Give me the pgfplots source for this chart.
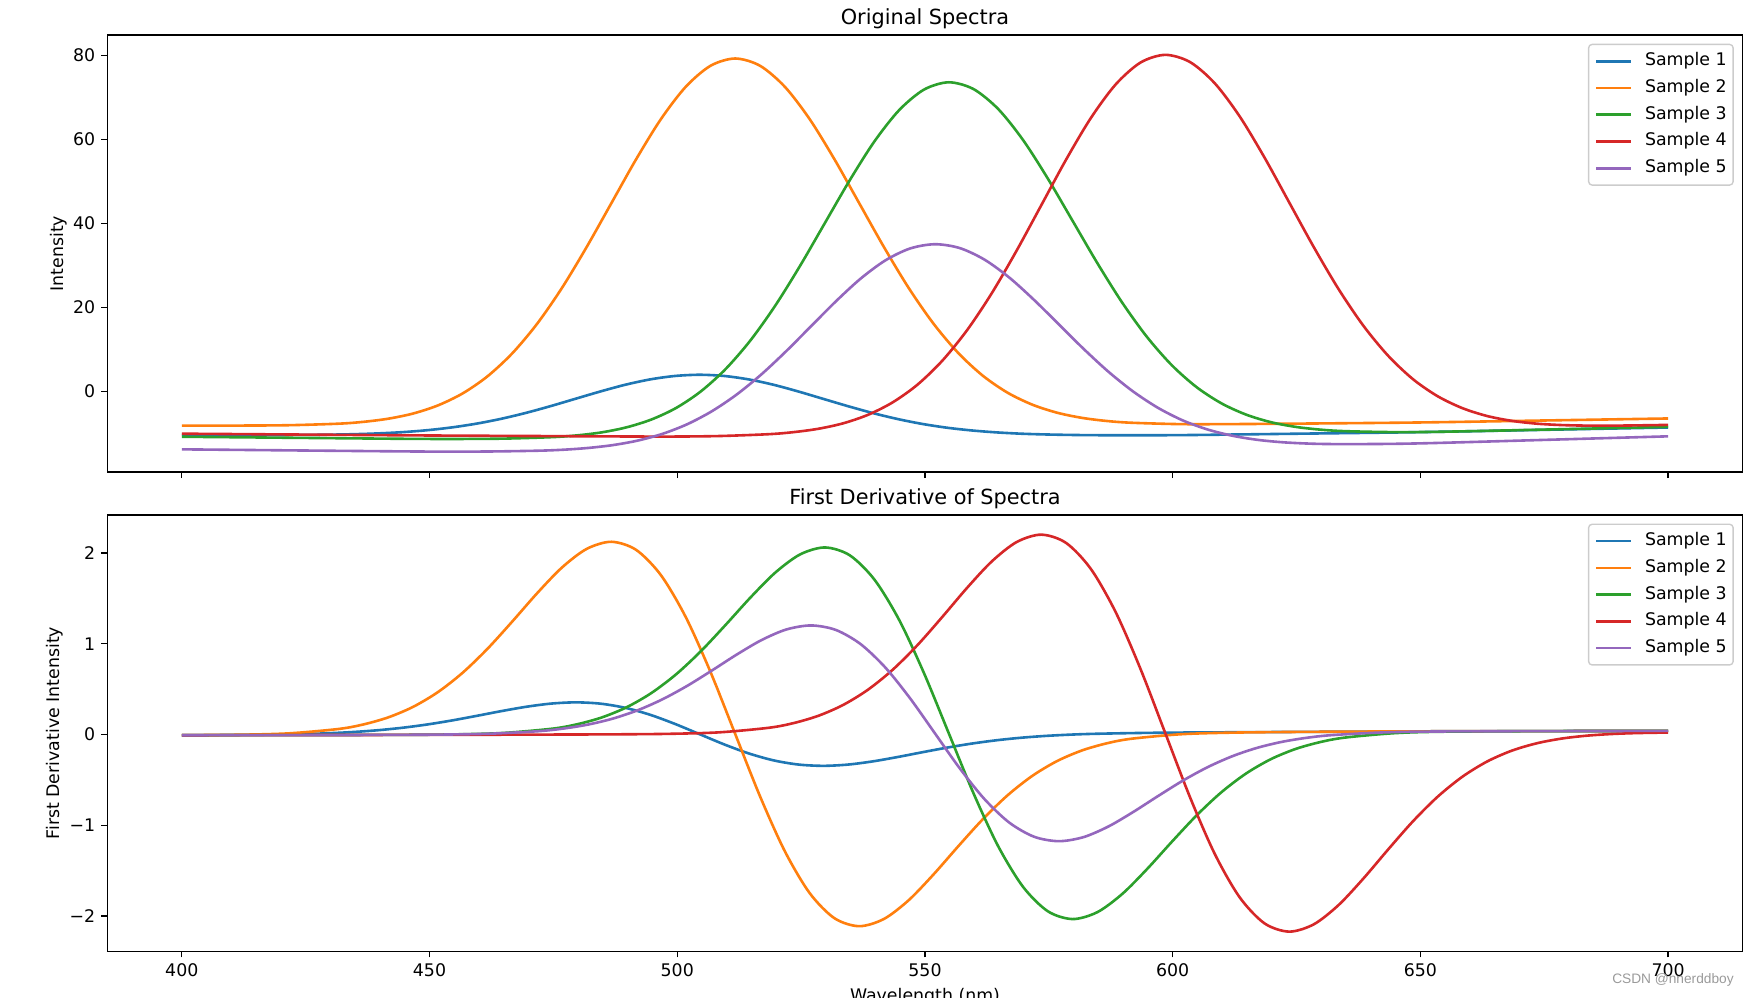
\documentclass[border=0pt]{standalone}
\usepackage{fontspec}
\setmainfont{DejaVu Sans}
\newfontfamily\wmfont{Liberation Sans}
\usepackage{pgfplots}
\pgfplotsset{compat=1.18}
\definecolor{c0}{HTML}{1F77B4}
\definecolor{c1}{HTML}{FF7F0E}
\definecolor{c2}{HTML}{2CA02C}
\definecolor{c3}{HTML}{D62728}
\definecolor{c4}{HTML}{9467BD}
\definecolor{legframe}{HTML}{CCCCCC}
\definecolor{wm}{HTML}{9A9A9A}
\pgfplotsset{
  spec/.style={
    scale only axis, width=941.8pt, xmin=385, xmax=715,
    xtick={400,450,...,700}, tick align=outside, xtick pos=bottom, ytick pos=left,
    major tick length=3.5pt, tick style={black, line width=0.8pt},
    axis line style={line width=0.8pt},
    tick label style={font=\fontsize{10}{12}\selectfont},
    label style={font=\fontsize{10}{12}\selectfont},
    ylabel style={inner sep=0pt},
    title style={font=\fontsize{12}{14.4}\selectfont, inner sep=0pt, anchor=base},
    /pgf/number format/assume math mode=true,
    legend cell align=left,
    legend image code/.code={\draw[##1] (0pt,0pt) -- (20pt,0pt);},
    legend style={at={(1,1)}, anchor=north east, xshift=-5pt, yshift=-5pt,
      draw=legframe, line width=0.8pt, rounded corners=2pt, fill=white, fill opacity=0.8, draw opacity=1, text opacity=1,
      inner xsep=3.7pt, inner ysep=2pt,
      font=\fontsize{10}{12}\selectfont,
      nodes={inner xsep=0pt, inner ysep=2.7pt, text height=7.6pt, text depth=2.4pt},
      /tikz/every odd column/.append style={column sep=7.3pt}},
    every axis plot/.append style={line width=1.5pt, smooth, no markers},
    cycle list={{c0},{c1},{c2},{c3},{c4}},
  }
}
\begin{document}
\begin{tikzpicture}
\useasboundingbox (0pt,0pt) rectangle (1008.6pt,-574.3pt);
\begin{axis}[spec, at={(61.9pt,-20.2pt)}, anchor=north west, height=251.7pt,
  ymin=-19.2, ymax=84.8, ytick={0,20,40,60,80}, yticklabels={0,20,40,60,80},
  xticklabels={}, title={Original Spectra}, ylabel={Intensity}]
\addplot coordinates {(400,-10.35) (404.5,-10.36) (414.5,-10.39) (424.5,-10.36) (429.5,-10.31) (434.5,-10.20) (439.5,-10.01) (444.5,-9.71) (449.5,-9.25) (454.5,-8.58) (459.5,-7.68) (464.5,-6.52) (469.5,-5.11) (474.5,-3.49) (479.5,-1.75) (484.5,-0.02) (489.5,1.57) (494.5,2.84) (499.5,3.66) (504.5,3.95) (509.5,3.66) (514.5,2.83) (519.5,1.55) (524.5,-0.05) (529.5,-1.80) (534.5,-3.54) (539.5,-5.17) (544.5,-6.59) (549.5,-7.76) (554.5,-8.66) (559.5,-9.31) (564.5,-9.77) (569.5,-10.08) (574.5,-10.26) (579.5,-10.37) (584.5,-10.43) (594.5,-10.45) (604.5,-10.38) (625,-10.08) (650,-9.70) (675,-9.15) (700,-8.60)};
\addlegendentry{Sample 1}
\addplot coordinates {(400,-8.14) (411.7,-8.14) (421.7,-8.05) (431.7,-7.69) (436.7,-7.25) (441.7,-6.50) (446.7,-5.27) (451.7,-3.34) (456.7,-0.48) (461.7,3.58) (466.7,9.05) (471.7,16.06) (476.7,24.56) (481.7,34.32) (486.7,44.78) (491.7,55.24) (496.7,64.79) (501.7,72.47) (506.7,77.48) (511.7,79.22) (516.7,77.50) (521.7,72.51) (526.7,64.84) (531.7,55.29) (536.7,44.84) (541.7,34.38) (546.7,24.63) (551.7,16.14) (556.7,9.15) (561.7,3.70) (566.7,-0.34) (571.7,-3.18) (576.7,-5.09) (581.7,-6.31) (586.7,-7.05) (591.7,-7.47) (601.7,-7.80) (611.7,-7.79) (625,-7.68) (650,-7.40) (675,-6.93) (700,-6.45)};
\addlegendentry{Sample 2}
\addplot coordinates {(400,-10.80) (425,-11.08) (444.8,-11.29) (454.8,-11.33) (464.8,-11.25) (474.8,-10.89) (479.8,-10.47) (484.8,-9.75) (489.8,-8.55) (494.8,-6.69) (499.8,-3.93) (504.8,0.03) (509.8,5.36) (514.8,12.17) (519.8,20.44) (524.8,29.90) (529.8,40.07) (534.8,50.22) (539.8,59.50) (544.8,66.95) (549.8,71.82) (554.8,73.56) (559.8,71.94) (564.8,67.17) (569.8,59.81) (574.8,50.63) (579.8,40.57) (584.8,30.50) (589.8,21.13) (594.8,12.96) (599.8,6.24) (604.8,1.02) (609.8,-2.83) (614.8,-5.53) (619.8,-7.33) (624.8,-8.45) (629.8,-9.11) (634.8,-9.47) (644.8,-9.70) (654.8,-9.60) (675,-9.10) (700,-8.45)};
\addlegendentry{Sample 3}
\addplot coordinates {(400,-10.07) (425,-10.29) (450,-10.50) (475,-10.65) (488.5,-10.73) (498.5,-10.76) (508.5,-10.63) (518.5,-10.19) (523.5,-9.70) (528.5,-8.90) (533.5,-7.60) (538.5,-5.58) (543.5,-2.60) (548.5,1.61) (553.5,7.30) (558.5,14.57) (563.5,23.40) (568.5,33.51) (573.5,44.36) (578.5,55.20) (583.5,65.10) (588.5,73.07) (593.5,78.26) (598.5,80.09) (603.5,78.37) (608.5,73.31) (613.5,65.47) (618.5,55.70) (623.5,44.99) (628.5,34.27) (633.5,24.29) (638.5,15.59) (643.5,8.45) (648.5,2.89) (653.5,-1.18) (658.5,-4.01) (663.5,-5.88) (668.5,-7.03) (673.5,-7.69) (678.5,-8.02) (683.5,-8.15) (688.5,-8.16) (693.5,-8.10) (700,-7.98)};
\addlegendentry{Sample 4}
\addplot coordinates {(400,-13.80) (425,-14.08) (442,-14.26) (452,-14.34) (462,-14.31) (472,-14.12) (477,-13.89) (482,-13.47) (487,-12.79) (492,-11.72) (497,-10.12) (502,-7.83) (507,-4.72) (512,-0.75) (517,4.06) (522,9.58) (527,15.50) (532,21.41) (537,26.82) (542,31.17) (547,34.01) (552,35.02) (557,34.11) (562,31.36) (567,27.10) (572,21.78) (577,15.96) (582,10.13) (587,4.70) (592,-0.02) (597,-3.90) (602,-6.90) (607,-9.06) (612,-10.55) (617,-11.52) (622,-12.10) (627,-12.41) (632,-12.54) (642,-12.52) (652,-12.32) (675,-11.55) (700,-10.70)};
\addlegendentry{Sample 5}
\end{axis}
\begin{axis}[spec, at={(61.9pt,-296.6pt)}, anchor=north west, height=251.4pt,
  ymin=-2.39, ymax=2.42, ytick={-2,-1,0,1,2}, yticklabels={−2,−1,0,1,2},
  xticklabels={400,450,500,550,600,650,700},
  title={First Derivative of Spectra}, ylabel={First Derivative Intensity}, xlabel={Wavelength (nm)}]
\addplot coordinates {(400,-0.008) (404.5,-0.0068) (414.5,-0.0036) (424.5,0.0052) (429.5,0.0138) (434.5,0.0272) (439.5,0.0468) (444.5,0.0742) (449.5,0.1102) (454.5,0.1546) (459.5,0.2053) (464.5,0.2578) (469.5,0.3055) (474.5,0.3405) (479.5,0.3543) (484.5,0.3400) (489.5,0.2942) (494.5,0.2179) (499.5,0.1175) (504.5,0.0039) (509.5,-0.1096) (514.5,-0.2097) (519.5,-0.2858) (524.5,-0.3313) (529.5,-0.3453) (534.5,-0.3312) (539.5,-0.2959) (544.5,-0.2479) (549.5,-0.1951) (554.5,-0.1442) (559.5,-0.0995) (564.5,-0.0630) (569.5,-0.0351) (574.5,-0.0150) (579.5,-0.0011) (584.5,0.0080) (594.5,0.0178) (604.5,0.0224) (625,0.0285) (650,0.035) (675,0.0375) (700,0.040)};
\addlegendentry{Sample 1}
\addplot coordinates {(400,-0.0073) (411.7,-0.0024) (421.7,0.0131) (431.7,0.0614) (436.7,0.1115) (441.7,0.1894) (446.7,0.3051) (451.7,0.4675) (456.7,0.6814) (461.7,0.9447) (466.7,1.2451) (471.7,1.5558) (476.7,1.8387) (481.7,2.0449) (486.7,2.1239) (491.7,2.0349) (496.7,1.7566) (501.7,1.2957) (506.7,0.6905) (511.7,0.0053) (516.7,-0.6799) (521.7,-1.2851) (526.7,-1.7458) (531.7,-2.0238) (536.7,-2.1125) (541.7,-2.0332) (546.7,-1.8267) (551.7,-1.5435) (556.7,-1.2326) (561.7,-0.9320) (566.7,-0.6685) (571.7,-0.4544) (576.7,-0.2916) (581.7,-0.1754) (586.7,-0.0970) (591.7,-0.0464) (601.7,0.0030) (611.7,0.0203) (625,0.0283) (650,0.035) (675,0.0375) (700,0.040)};
\addlegendentry{Sample 2}
\addplot coordinates {(400,-0.008) (425,-0.006) (444.8,-0.0035) (454.8,0.0012) (464.8,0.0169) (474.8,0.0642) (479.8,0.1129) (484.8,0.1885) (489.8,0.3007) (494.8,0.4580) (499.8,0.6648) (504.8,0.9197) (509.8,1.2105) (514.8,1.5112) (519.8,1.7850) (524.8,1.9848) (529.8,2.0614) (534.8,1.9757) (539.8,1.7070) (544.8,1.2615) (549.8,0.6764) (554.8,0.0139) (559.8,-0.6486) (564.8,-1.2338) (569.8,-1.6794) (574.8,-1.9482) (579.8,-2.0340) (584.8,-1.9575) (589.8,-1.7578) (594.8,-1.4841) (599.8,-1.1835) (604.8,-0.8925) (609.8,-0.6373) (614.8,-0.4299) (619.8,-0.2720) (624.8,-0.1592) (629.8,-0.0830) (634.8,-0.0337) (644.8,0.0149) (654.8,0.0310) (675,0.0375) (700,0.040)};
\addlegendentry{Sample 3}
\addplot coordinates {(400,-0.008) (425,-0.006) (450,-0.004) (475,-0.0005) (488.5,0.0022) (498.5,0.0076) (508.5,0.0240) (518.5,0.0743) (523.5,0.1261) (528.5,0.2067) (533.5,0.3263) (538.5,0.4940) (543.5,0.7146) (548.5,0.9862) (553.5,1.2961) (558.5,1.6166) (563.5,1.9084) (568.5,2.1212) (573.5,2.2025) (578.5,2.1105) (583.5,1.8232) (588.5,1.3473) (593.5,0.7223) (598.5,0.0148) (603.5,-0.6926) (608.5,-1.3175) (613.5,-1.7933) (618.5,-2.0805) (623.5,-2.1724) (628.5,-2.0910) (633.5,-1.8781) (638.5,-1.5862) (643.5,-1.2656) (648.5,-0.9556) (653.5,-0.6841) (658.5,-0.4637) (663.5,-0.2962) (668.5,-0.1768) (673.5,-0.0964) (678.5,-0.0448) (683.5,-0.0132) (688.5,0.0051) (693.5,0.0155) (700,0.0218)};
\addlegendentry{Sample 4}
\addplot coordinates {(400,-0.008) (425,-0.006) (442,-0.0041) (452,-0.0011) (462,0.0086) (472,0.0367) (477,0.0653) (482,0.1096) (487,0.1752) (492,0.2669) (497,0.3875) (502,0.5359) (507,0.7055) (512,0.8808) (517,1.0404) (522,1.1570) (527,1.2020) (532,1.1526) (537,0.9967) (542,0.7381) (547,0.3982) (552,0.0134) (557,-0.3715) (562,-0.7115) (567,-0.9702) (572,-1.1262) (577,-1.1757) (582,-1.1308) (587,-1.0143) (592,-0.8548) (597,-0.6796) (602,-0.5100) (607,-0.3611) (612,-0.2399) (617,-0.1476) (622,-0.0814) (627,-0.0365) (632,-0.0073) (642,0.0220) (652,0.0326) (675,0.0375) (700,0.040)};
\addlegendentry{Sample 5}
\end{axis}
\node[anchor=east, inner sep=0pt, text=wm, font=\wmfont\fontsize{7.9}{9}\selectfont] at (998.8pt,-564.5pt) {CSDN @nnerddboy};
\end{tikzpicture}
\end{document}
